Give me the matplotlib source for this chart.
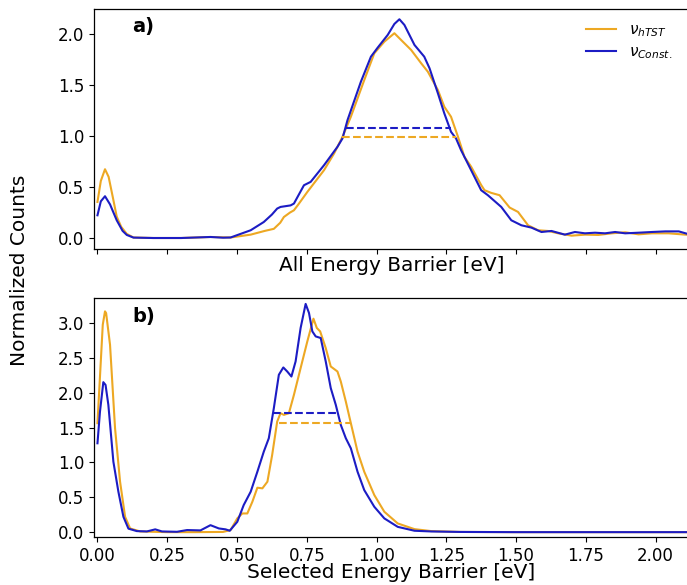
#!/usr/bin/env python3
"""Normalized count distributions of energy barriers for two prefactor choices."""

import matplotlib as mpl
import matplotlib.pyplot as plt

mpl.rcParams.update(
    {
        "font.family": "DejaVu Sans",
        "font.size": 12,
        "axes.linewidth": 0.9,
        "legend.frameon": False,
    }
)

COLORS = {"htst": "#EDA823", "const": "#1C1CC4"}

# ---- panel a) all energy barriers ----
a_e_htst = [0.000, 0.012, 0.027, 0.040, 0.055, 0.069, 0.085, 0.105, 0.129, 0.200, 0.300,
            0.405, 0.477, 0.549, 0.600, 0.632, 0.655, 0.668, 0.690, 0.704, 0.720, 0.752,
            0.812, 0.848, 0.878, 0.908, 0.956, 0.992, 1.028, 1.064, 1.088, 1.124, 1.160,
            1.184, 1.220, 1.243, 1.267, 1.292, 1.315, 1.339, 1.375, 1.387, 1.411, 1.441,
            1.477, 1.507, 1.543, 1.579, 1.615, 1.651, 1.699, 1.747, 1.795, 1.843, 1.891,
            1.939, 1.987, 2.047, 2.120]
a_v_htst = [0.354, 0.560, 0.675, 0.600, 0.400, 0.210, 0.110, 0.040, 0.005, 0.000, 0.000,
            0.010, 0.005, 0.033, 0.070, 0.090, 0.150, 0.206, 0.250, 0.272, 0.330, 0.452,
            0.666, 0.830, 0.993, 1.190, 1.550, 1.813, 1.927, 2.010, 1.944, 1.846, 1.715,
            1.632, 1.452, 1.288, 1.190, 0.993, 0.797, 0.700, 0.520, 0.469, 0.443, 0.420,
            0.299, 0.256, 0.125, 0.076, 0.069, 0.046, 0.023, 0.033, 0.030, 0.046, 0.056,
            0.036, 0.046, 0.046, 0.030]

a_e_const = [0.000, 0.012, 0.027, 0.045, 0.069, 0.090, 0.105, 0.129, 0.200, 0.300, 0.405,
             0.450, 0.477, 0.549, 0.596, 0.625, 0.644, 0.656, 0.692, 0.704, 0.740, 0.764,
             0.812, 0.860, 0.878, 0.896, 0.944, 0.980, 1.004, 1.040, 1.064, 1.082, 1.100,
             1.136, 1.171, 1.190, 1.220, 1.243, 1.267, 1.285, 1.303, 1.339, 1.375, 1.399,
             1.447, 1.483, 1.519, 1.555, 1.591, 1.627, 1.675, 1.711, 1.747, 1.783, 1.819,
             1.855, 1.891, 1.939, 1.987, 2.035, 2.083, 2.120]
a_v_const = [0.223, 0.360, 0.410, 0.330, 0.174, 0.070, 0.030, 0.004, 0.000, 0.000, 0.010,
             0.003, 0.005, 0.076, 0.157, 0.230, 0.289, 0.305, 0.320, 0.338, 0.518, 0.551,
             0.715, 0.895, 0.977, 1.157, 1.534, 1.780, 1.868, 1.993, 2.101, 2.147, 2.091,
             1.895, 1.780, 1.666, 1.420, 1.223, 1.042, 0.977, 0.862, 0.666, 0.469, 0.420,
             0.305, 0.174, 0.125, 0.102, 0.059, 0.069, 0.033, 0.059, 0.046, 0.052, 0.046,
             0.059, 0.046, 0.052, 0.059, 0.065, 0.065, 0.036]

# half-maximum markers: (level, start, end)
a_half_htst = (0.99, 0.876, 1.285)
a_half_const = (1.075, 0.890, 1.267)

# ---- panel b) selected energy barriers ----
b_e_htst = [0.000, 0.019, 0.027, 0.031, 0.045, 0.063, 0.081, 0.099, 0.117, 0.153, 0.250,
            0.350, 0.450, 0.477, 0.501, 0.519, 0.537, 0.555, 0.573, 0.591, 0.609, 0.626,
            0.644, 0.656, 0.668, 0.686, 0.704, 0.728, 0.752, 0.774, 0.786, 0.798, 0.818,
            0.836, 0.860, 0.872, 0.890, 0.908, 0.932, 0.956, 0.992, 1.028, 1.076, 1.136,
            1.196, 1.300, 1.500, 1.750, 2.000, 2.120]
b_v_htst = [1.562, 2.974, 3.165, 3.140, 2.687, 1.490, 0.723, 0.220, 0.053, 0.010, 0.000,
            0.000, 0.003, 0.030, 0.197, 0.268, 0.268, 0.435, 0.637, 0.628, 0.723, 1.106,
            1.585, 1.705, 1.681, 1.705, 1.968, 2.352, 2.734, 3.060, 2.927, 2.878, 2.639,
            2.375, 2.303, 2.159, 1.872, 1.562, 1.154, 0.866, 0.532, 0.292, 0.125, 0.043,
            0.015, 0.003, 0.000, 0.000, 0.000, 0.000]

b_e_const = [0.000, 0.009, 0.021, 0.029, 0.039, 0.057, 0.075, 0.093, 0.111, 0.141, 0.177,
             0.207, 0.231, 0.285, 0.321, 0.369, 0.405, 0.435, 0.459, 0.474, 0.501, 0.524,
             0.549, 0.573, 0.596, 0.614, 0.632, 0.650, 0.666, 0.680, 0.695, 0.710, 0.728,
             0.746, 0.758, 0.770, 0.782, 0.800, 0.818, 0.836, 0.854, 0.872, 0.890, 0.908,
             0.932, 0.956, 0.992, 1.028, 1.076, 1.136, 1.196, 1.300, 1.500, 1.750, 2.000,
             2.120]
b_v_const = [1.274, 1.728, 2.150, 2.110, 1.825, 1.010, 0.579, 0.220, 0.050, 0.015, 0.010,
             0.040, 0.010, 0.005, 0.030, 0.025, 0.100, 0.053, 0.040, 0.020, 0.148, 0.388,
             0.579, 0.866, 1.154, 1.346, 1.777, 2.256, 2.361, 2.303, 2.231, 2.447, 2.927,
             3.272, 3.142, 2.878, 2.806, 2.783, 2.447, 2.065, 1.825, 1.537, 1.346, 1.202,
             0.866, 0.603, 0.364, 0.197, 0.076, 0.020, 0.010, 0.003, 0.000, 0.000, 0.000,
             0.000]

b_half_htst = (1.562, 0.652, 0.910)
b_half_const = (1.705, 0.630, 0.862)

x_ticks = [0.00, 0.25, 0.50, 0.75, 1.00, 1.25, 1.50, 1.75, 2.00]


def draw_panel(ax, e_h, v_h, e_c, v_c, half_h, half_c):
    ax.plot(e_h, v_h, color=COLORS["htst"], lw=1.5, label=r"$\nu_{hTST}$")
    ax.plot(e_c, v_c, color=COLORS["const"], lw=1.5, label=r"$\nu_{Const.}$")
    ax.hlines(half_h[0], half_h[1], half_h[2], colors=COLORS["htst"], linestyles="--", lw=1.5)
    ax.hlines(half_c[0], half_c[1], half_c[2], colors=COLORS["const"], linestyles="--", lw=1.5)
    ax.set_xlim(-0.012, 2.12)
    ax.set_xticks(x_ticks)


def main():
    fig = plt.figure(figsize=(6.87, 5.85), dpi=100)
    ax_a = fig.add_axes([0.137, 0.574, 0.866, 0.411])
    ax_b = fig.add_axes([0.137, 0.082, 0.866, 0.409])

    draw_panel(ax_a, a_e_htst, a_v_htst, a_e_const, a_v_const, a_half_htst, a_half_const)
    ax_a.set_ylim(-0.11, 2.25)
    ax_a.set_yticks([0.0, 0.5, 1.0, 1.5, 2.0])
    ax_a.set_xticklabels([])
    ax_a.set_xlabel("All Energy Barrier [eV]", fontsize=14.5, labelpad=-2)
    ax_a.legend(loc="upper right", fontsize=11, handlelength=2.0, handletextpad=0.85,
                labelspacing=0.35, bbox_to_anchor=(0.995, 1.0))

    draw_panel(ax_b, b_e_htst, b_v_htst, b_e_const, b_v_const, b_half_htst, b_half_const)
    ax_b.set_ylim(-0.07, 3.36)
    ax_b.set_yticks([0.0, 0.5, 1.0, 1.5, 2.0, 2.5, 3.0])
    ax_b.set_xlabel("Selected Energy Barrier [eV]", fontsize=14.5, labelpad=-1)

    for ax in (ax_a, ax_b):
        ax.tick_params(labelsize=12)

    ax_a.text(0.064, 0.925, "a)", transform=ax_a.transAxes, fontsize=14,
              fontweight="bold", va="center", ha="left")
    ax_b.text(0.064, 0.923, "b)", transform=ax_b.transAxes, fontsize=14,
              fontweight="bold", va="center", ha="left")

    fig.text(0.029, 0.538, "Normalized Counts", rotation=90, fontsize=14.5,
             va="center", ha="center")

    fig.savefig("out.png", dpi=100)
    plt.close(fig)


if __name__ == "__main__":
    main()
